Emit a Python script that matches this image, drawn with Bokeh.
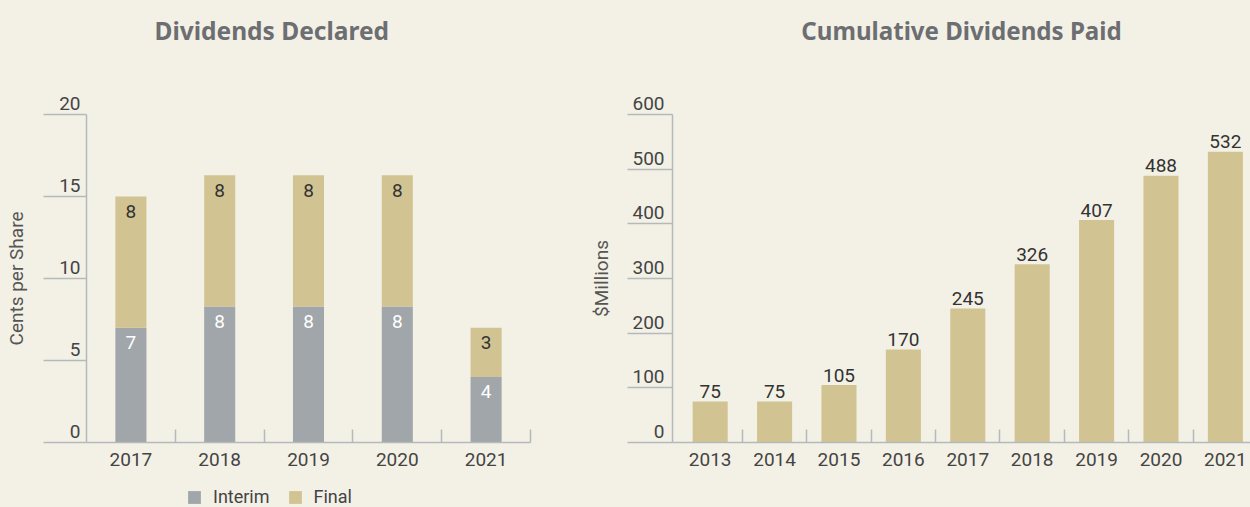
import numpy as np
from bokeh.plotting import figure
from bokeh.layouts import row, column
from bokeh.models import Range1d, FixedTicker, Legend, LegendItem, Title
from bokeh.core.properties import value
from bokeh.embed import file_html
from bokeh.resources import INLINE

# ---------------- data ----------------
decl_years = ["2017", "2018", "2019", "2020", "2021"]
interim = [7.0, 8.3, 8.3, 8.3, 4.0]
final = [8.0, 8.0, 8.0, 8.0, 3.0]
interim_labels = ["7", "8", "8", "8", "4"]
final_labels = ["8", "8", "8", "8", "3"]
decl_ticks = [0, 5, 10, 15, 20]
legend_labels = ["Interim", "Final"]

paid_years = ["2013", "2014", "2015", "2016", "2017", "2018", "2019", "2020", "2021"]
paid = [75, 75, 105, 170, 245, 326, 407, 488, 532]
paid_ticks = [0, 100, 200, 300, 400, 500, 600]

# ---------------- style ----------------
BG = "#F3F1E6"
GRAY = "#A0A6A9"
TAN = "#D2C492"
AXC = "#B4B9BC"
TXT = "#444444"
TITLE_C = "#6D6E71"
FONT = "Roboto"
TFONT = "Noto Sans"

TH = 60          # title strip height
LH = 23          # legend strip height
H = 507 - TH - LH


def blank(p):
    p.axis.visible = False
    p.grid.visible = False
    p.outline_line_color = None
    p.background_fill_color = BG
    p.border_fill_color = BG


def style_axes(p, ticks, tick_out, label_gap, ylabel, ylabel_standoff, centers, labels, bounds):
    p.xgrid.visible = False
    p.ygrid.visible = False
    p.outline_line_color = None
    p.background_fill_color = BG
    p.border_fill_color = BG
    # y axis: long outward tick lines, each label sitting just above its line
    ya = p.yaxis[0]
    ya.ticker = FixedTicker(ticks=ticks, minor_ticks=[])
    ya.major_label_overrides = {t: f"{t}\n\u00a0" for t in ticks}
    ya.major_tick_out = tick_out
    ya.major_tick_in = 0
    ya.minor_tick_out = 0
    ya.minor_tick_in = 0
    ya.major_label_standoff = -(tick_out - label_gap)
    ya.major_label_text_font = FONT
    ya.major_label_text_font_size = "19px"
    ya.major_label_text_line_height = 0.95
    ya.major_label_text_color = TXT
    ya.axis_line_color = AXC
    ya.axis_line_width = 1.5
    ya.major_tick_line_color = AXC
    ya.major_tick_line_width = 1.5
    ya.axis_label = ylabel
    ya.axis_label_text_font = FONT
    ya.axis_label_text_font_size = "19px"
    ya.axis_label_text_font_style = "normal"
    ya.axis_label_text_color = "#555555"
    ya.axis_label_standoff = ylabel_standoff
    # x axis: labels at centres, ticks at category boundaries
    xa = p.xaxis[0]
    xa.ticker = FixedTicker(ticks=list(centers), minor_ticks=list(bounds))
    xa.major_label_overrides = {float(c): l for c, l in zip(centers, labels)}
    xa.major_tick_in = 0
    xa.major_tick_out = 0
    xa.minor_tick_in = 13
    xa.minor_tick_out = 0
    xa.minor_tick_line_color = AXC
    xa.minor_tick_line_width = 1.5
    xa.axis_line_color = AXC
    xa.axis_line_width = 1.5
    xa.major_label_text_font = FONT
    xa.major_label_text_font_size = "19px"
    xa.major_label_text_color = TXT
    xa.major_label_standoff = 10


def title_strip(width, left, right, text, align, offset, size):
    t = figure(width=width, height=TH, x_range=Range1d(0, 1), y_range=Range1d(0, 1),
               output_backend="svg", toolbar_location=None, title=None,
               min_border_left=left, min_border_right=right,
               min_border_top=51, min_border_bottom=0)
    blank(t)
    t.add_layout(Title(text=text, text_font=TFONT, text_font_size=size,
                       text_font_style="bold", text_color=TITLE_C, align=align,
                       offset=offset, standoff=10), "above")
    return t


# ---------------- left: Dividends Declared ----------------
t1 = title_strip(568, 86, 38, "Dividends Declared", "left", 68, "24.5px")
xs1 = np.arange(len(decl_years)) + 0.5
tot = [a + b for a, b in zip(interim, final)]
p1 = figure(width=568, height=H, x_range=Range1d(0, len(decl_years)),
            y_range=Range1d(0, 20), output_backend="svg", toolbar_location=None,
            title=None, min_border_left=86, min_border_right=38, min_border_top=114 - TH,
            min_border_bottom=42)
p1.vbar(x=xs1, bottom=0, top=interim, width=0.35, fill_color=GRAY, line_color=None)
p1.vbar(x=xs1, bottom=interim, top=tot, width=0.35, fill_color=TAN, line_color=None)
p1.text(x=xs1, y=interim, text=interim_labels, text_align="center", text_baseline="middle",
        y_offset=15, text_font=value(FONT), text_font_size="19px", text_color="white")
p1.text(x=xs1, y=tot, text=final_labels, text_align="center", text_baseline="middle",
        y_offset=15, text_font=value(FONT), text_font_size="19px", text_color="#333333")
style_axes(p1, decl_ticks, 43, 6, "Cents per Share", 28, xs1, decl_years,
           np.arange(1, len(decl_years) + 1))

# ---------------- legend strip under the left chart ----------------
# the swatch bars carry the real data but lie outside this strip's visible x range
pl = figure(width=568, height=LH, x_range=Range1d(-3, -2), y_range=Range1d(0, 1),
            output_backend="svg", toolbar_location=None, title=None,
            min_border_left=0, min_border_right=0, min_border_top=0, min_border_bottom=0)
blank(pl)
sw_i = pl.vbar(x=xs1, bottom=0, top=interim, width=0.35, fill_color=GRAY, line_color=None)
sw_f = pl.vbar(x=xs1, bottom=interim, top=tot, width=0.35, fill_color=TAN, line_color=None)
leg = Legend(items=[LegendItem(label=legend_labels[0], renderers=[sw_i]),
                    LegendItem(label=legend_labels[1], renderers=[sw_f])],
             orientation="horizontal", location=(186, 0))
leg.padding = 0
leg.margin = 0
leg.border_line_color = None
leg.background_fill_alpha = 0
leg.glyph_width = 16
leg.glyph_height = 16
leg.label_standoff = 11
leg.spacing = 17
leg.label_text_font = FONT
leg.label_text_font_size = "18px"
leg.label_text_color = TXT
pl.add_layout(leg)

# ---------------- right: Cumulative Dividends Paid ----------------
t2 = title_strip(682, 104, 0, "Cumulative Dividends Paid", "center", 0, "24.1px")
xs2 = np.arange(len(paid_years)) + 0.5
p2 = figure(width=682, height=H, x_range=Range1d(-0.085, 8.89),
            y_range=Range1d(0, 600), output_backend="svg", toolbar_location=None,
            title=None, min_border_left=104, min_border_right=0, min_border_top=114 - TH,
            min_border_bottom=42)
p2.vbar(x=xs2, bottom=0, top=paid, width=0.545, fill_color=TAN, line_color=None)
p2.text(x=xs2, y=paid, text=[str(v) for v in paid], text_align="center",
        text_baseline="alphabetic", y_offset=-10, text_font=value(FONT),
        text_font_size="19px", text_color="#333333")
style_axes(p2, paid_ticks, 45, 8, "$Millions", 16, xs2, paid_years,
           np.arange(1, len(paid_years)))

layout = column(row(t1, t2, spacing=0), row(p1, p2, spacing=0), pl, spacing=0)
layout.styles = {"background-color": BG}
open("out.html", "w").write(file_html(layout, INLINE))
